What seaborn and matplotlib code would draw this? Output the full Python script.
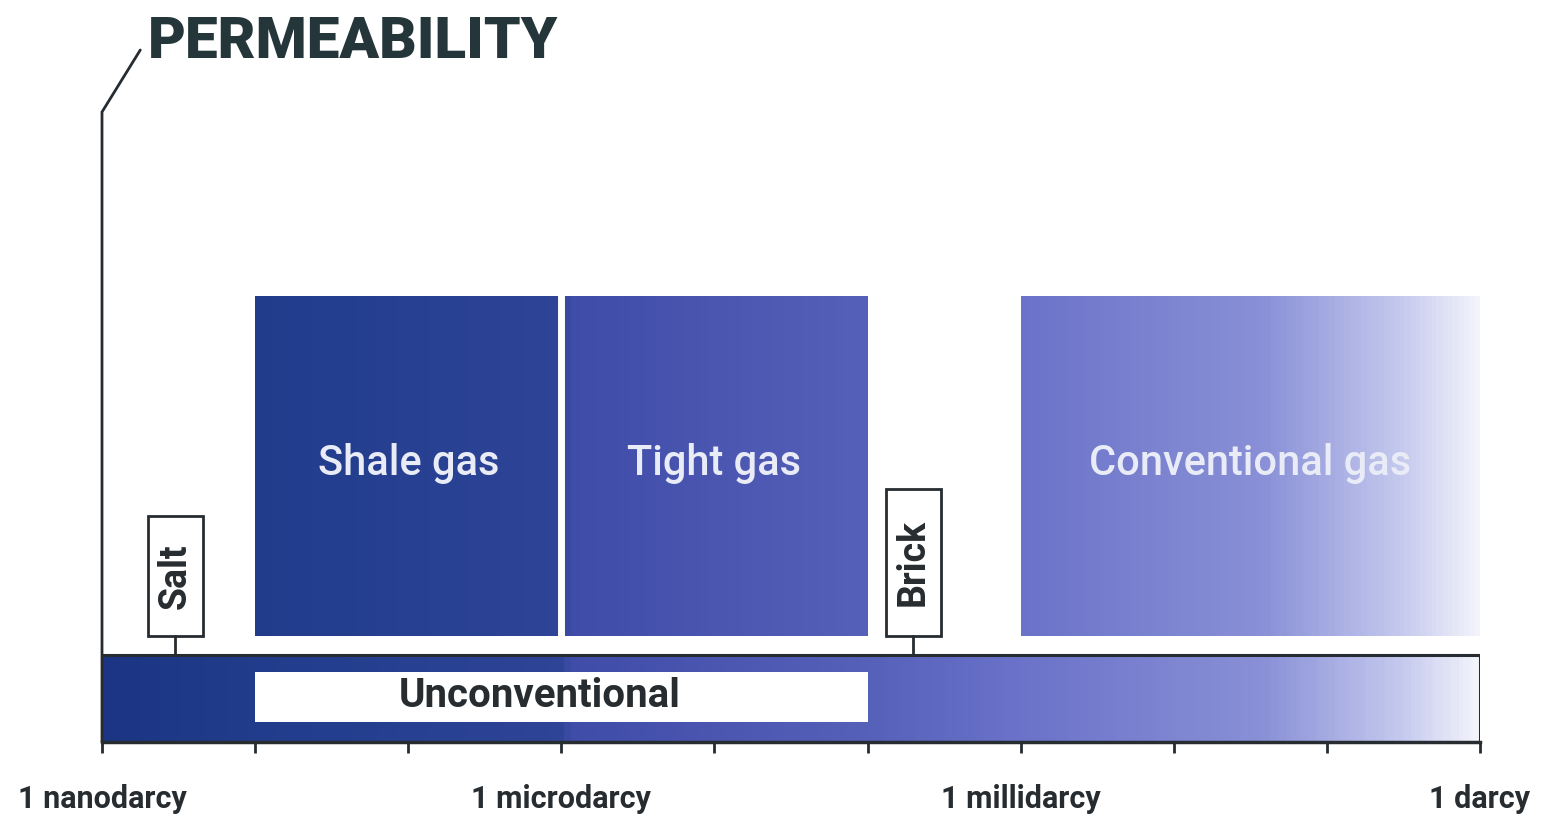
import numpy as np
import matplotlib
matplotlib.use("Agg")
import matplotlib.pyplot as plt
from matplotlib.colors import LinearSegmentedColormap, Normalize
from matplotlib.patches import Rectangle
import seaborn as sns

# ---------------- data ----------------
categories = ["Shale gas", "Tight gas", "Conventional gas"]
range_low = [1e-8, 1e-6, 1e-3]          # darcy
range_high = [1e-6, 1e-4, 1e0]          # darcy
markers = ["Salt", "Brick"]
marker_values = [10 ** -8.52, 10 ** -3.70]
unconventional_range = [1e-8, 1e-4]
unconventional_label_at = 10 ** -6.14
axis_min, axis_max = 1e-9, 1e0
major_ticks = [1e-9, 1e-8, 1e-7, 1e-6, 1e-5, 1e-4, 1e-3, 1e-2, 1e-1, 1e0]
label_ticks = [1e-9, 1e-6, 1e-3, 1e0]
tick_labels = ["1 nanodarcy", "1 microdarcy", "1 millidarcy", "1 darcy"]
title = "PERMEABILITY"

# ---------------- style ----------------
sns.set_theme(style="white")
plt.rcParams["font.family"] = ["Roboto", "DejaVu Sans"]
DARK = "#262c30"

cmap = LinearSegmentedColormap.from_list(
    "perm",
    [(0.00, "#1b3584"), (1 / 9, "#203c8b"), (3 / 9, "#2e4497"),
     (3.05 / 9, "#3f4ca8"), (5 / 9, "#5560b8"), (6 / 9, "#6a72c9"),
     (7.6 / 9, "#8990d6"), (8.5 / 9, "#c4c9ee"), (1.0, "#f2f3fb")])
norm = Normalize(vmin=np.log10(axis_min), vmax=np.log10(axis_max))

W, H = 1549, 816
fig = plt.figure(figsize=(W / 100, H / 100), dpi=100)
ax = fig.add_axes([102 / W, 74 / H, (1480 - 102) / W, 742 / H])
ax.set_xscale("log")
ax.set_xlim(axis_min, axis_max)
ax.set_ylim(0, 742)
ax.patch.set_alpha(0)


def gradient(x0, x1, y0, y1, n=200, z=1):
    xe = np.logspace(np.log10(x0), np.log10(x1), n + 1)
    xc = np.log10(np.sqrt(xe[:-1] * xe[1:]))
    ax.pcolormesh(xe, [y0, y1], xc[None, :], cmap=cmap, norm=norm,
                  shading="flat", zorder=z, rasterized=True)


# bottom permeability bar
BAR_TOP = 87
gradient(axis_min, axis_max, 0, BAR_TOP, n=400, z=1)
ax.plot([axis_min, axis_max, axis_max], [BAR_TOP, BAR_TOP, 0],
        color=DARK, lw=2.2, zorder=5, solid_joinstyle="miter")

# unconventional white box
ax.add_patch(Rectangle((unconventional_range[0], 20),
                       unconventional_range[1] - unconventional_range[0], 50,
                       facecolor="white", edgecolor="none", zorder=3))
ax.text(unconventional_label_at, 46, "Unconventional", ha="center",
        va="center", fontsize=29, fontweight="bold", color=DARK, zorder=4)

# gas category boxes
BOX_B, BOX_T = 106, 446
for name, lo, hi in zip(categories, range_low, range_high):
    gradient(lo, hi, BOX_B, BOX_T, n=200, z=2)
    ax.text(np.sqrt(lo * hi), 278, name, ha="center", va="center",
            fontsize=30, fontweight="medium", color="#e9ecf7", zorder=4)
# thin white gap between the adjoining shale / tight boxes
ax.plot([range_high[0], range_high[0]], [BOX_B, BOX_T], color="white",
        lw=5, zorder=3)

# Salt / Brick markers
marker_heights = [120, 147]
HW = 0.18  # half-width in decades
for name, v, h in zip(markers, marker_values, marker_heights):
    lv = np.log10(v)
    x0, x1 = 10 ** (lv - HW), 10 ** (lv + HW)
    ax.add_patch(Rectangle((x0, BOX_B), x1 - x0, h, facecolor="white",
                           edgecolor=DARK, lw=2, zorder=4))
    ax.plot([v, v], [BAR_TOP, BOX_B], color=DARK, lw=2, zorder=4)
    ax.text(v, BOX_B + h / 2, name, rotation=90, ha="center", va="center",
            fontsize=27, fontweight="bold", color=DARK, zorder=5)

# left bracket line
ax.plot([axis_min, axis_min, 10 ** -8.75], [0, 630, 692], color=DARK,
        lw=2, clip_on=False, zorder=6, solid_joinstyle="miter")

# axes / ticks
sns.despine(ax=ax, left=True, top=True, right=True)
ax.spines["bottom"].set_color(DARK)
ax.spines["bottom"].set_linewidth(2.5)
ax.set_yticks([])
ax.set_xticks(major_ticks)
ax.set_xticks([], minor=True)
ax.set_xticklabels([tick_labels[label_ticks.index(t)] if t in label_ticks else ""
                    for t in major_ticks])
ax.tick_params(axis="x", which="major", direction="out", length=8, width=2,
               color=DARK, labelsize=22, labelcolor=DARK, pad=22, bottom=True)
for lbl in ax.get_xticklabels():
    lbl.set_fontweight("bold")

fig.text(148 / W, 1 - 42 / H, title, ha="left", va="center", fontsize=42,
         fontweight="black", color="#24363a")

fig.savefig("out.png", dpi=100)
